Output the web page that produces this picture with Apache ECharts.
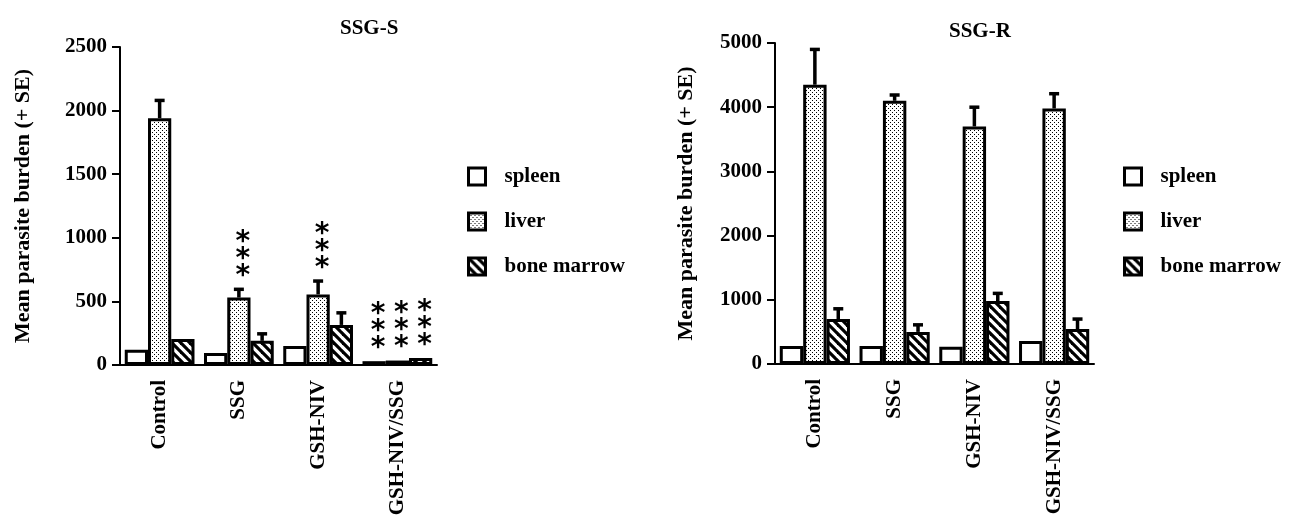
<!DOCTYPE html>
<html><head><meta charset="utf-8">
<script src="https://cdn.jsdelivr.net/npm/echarts@6/dist/echarts.min.js"></script>
<style>html,body{margin:0;padding:0;background:#fff}#c{width:1294px;height:528px}</style>
</head><body><div id="c"></div>
<script>
// ---------- data ----------
const categories = ['Control', 'SSG', 'GSH-NIV', 'GSH-NIV/SSG'];
const seriesNames = ['spleen', 'liver', 'bone marrow'];
const yAxisName = 'Mean parasite burden (+ SE)';
// SSG-S panel
const sSpleen = [120, 95, 150, 30];
const sLiver = [1940, 530, 555, 35];
const sBone = [205, 190, 315, 55];
const sSpleenErr = [null, null, null, null];
const sLiverErr = [2080, 595, 660, null];
const sBoneErr = [null, 245, 410, null];
const sSpleenSig = ['', '', '', '***'];
const sLiverSig = ['', '***', '***', '***'];
const sBoneSig = ['', '', '', '***'];
// SSG-R panel
const rSpleen = [280, 280, 270, 360];
const rLiver = [4350, 4100, 3700, 3980];
const rBone = [700, 500, 980, 545];
const rSpleenErr = [null, null, null, null];
const rLiverErr = [4900, 4190, 4000, 4210];
const rBoneErr = [860, 610, 1100, 700];
const rSig = ['', '', '', ''];
// axis ticks
const sTicks = { min: 0, max: 2500, interval: 500 };
const rTicks = { min: 0, max: 5000, interval: 1000 };

// ---------- styles ----------
const FONT = 'Liberation Serif';
const GAP = 0.12;

function dotPattern() {
  const c = document.createElement('canvas'); c.width = 4; c.height = 4;
  const x = c.getContext('2d');
  x.fillStyle = '#fff'; x.fillRect(0, 0, 4, 4);
  x.fillStyle = '#000'; x.fillRect(0, 0, 1, 1); x.fillRect(2, 2, 1, 1);
  return c;
}
function hatchPattern() {
  const n = 9;
  const c = document.createElement('canvas'); c.width = n; c.height = n;
  const x = c.getContext('2d');
  x.fillStyle = '#fff'; x.fillRect(0, 0, n, n);
  x.strokeStyle = '#000'; x.lineWidth = 3.2;
  for (let k = -n; k <= n; k += n) {
    x.beginPath(); x.moveTo(k - 2, -2); x.lineTo(k + n + 2, n + 2); x.stroke();
  }
  return c;
}
const fills = ['#ffffff', { image: dotPattern(), repeat: 'repeat' }, { image: hatchPattern(), repeat: 'repeat' }];

function barSeries(idx, vals) {
  return vals.map((v, k) => ({
    name: seriesNames[k], type: 'bar', xAxisIndex: idx, yAxisIndex: idx,
    data: v, barGap: '0%', barCategoryGap: (GAP * 100) + '%',
    itemStyle: { color: fills[k], borderColor: '#000', borderWidth: 3 },
    emphasis: { disabled: true }, z: 2
  }));
}

function annoSeries(idx, vals, errs, sigs) {
  const items = [];
  for (let k = 0; k < 3; k++) for (let i = 0; i < categories.length; i++) {
    if (errs[k][i] == null && !sigs[k][i]) continue;
    items.push({ cat: i, k: k, v: vals[k][i], e: errs[k][i], sig: sigs[k][i] });
  }
  return {
    type: 'custom', xAxisIndex: idx, yAxisIndex: idx, z: 5, silent: true,
    data: items.map(it => [it.cat, it.e == null ? it.v : it.e]),
    renderItem: (params, api) => {
      const it = items[params.dataIndex];
      const bw = api.size([1, 0])[0];
      const barW = bw * (1 - GAP) / 3;
      const cx = api.coord([it.cat, 0])[0] + (it.k - 1) * barW;
      const yv = api.coord([it.cat, it.v])[1];
      const children = [];
      let topY = yv;
      if (it.e != null) {
        const ye = api.coord([it.cat, it.e])[1];
        children.push({ type: 'line', shape: { x1: cx, y1: yv, x2: cx, y2: ye }, style: { stroke: '#000', lineWidth: 3.5 } });
        children.push({ type: 'line', shape: { x1: cx - 5, y1: ye, x2: cx + 5, y2: ye }, style: { stroke: '#000', lineWidth: 3.5 } });
        topY = ye;
      }
      if (it.sig) {
        children.push({
          type: 'text', x: cx + 4, y: topY - 4,
          style: {
            text: it.sig.split('').join('\n'), fill: '#000',
            font: 'bold 28px "DejaVu Sans"', lineHeight: 17,
            align: 'center', verticalAlign: 'bottom'
          }
        });
      }
      return { type: 'group', children };
    }
  };
}

const axisLineStyle = { color: '#000', width: 2 };
function xAxis(idx) {
  return {
    type: 'category', gridIndex: idx, data: categories,
    axisLine: { lineStyle: axisLineStyle },
    axisTick: { alignWithLabel: true, length: 7, lineStyle: { color: '#000', width: 1.5 } },
    axisLabel: { rotate: 90, margin: 15, color: '#000', fontFamily: FONT, fontWeight: 'bold', fontSize: 21 },
    splitLine: { show: false }
  };
}
function yAxis(idx, t, gap) {
  return {
    type: 'value', gridIndex: idx, min: t.min, max: t.max, interval: t.interval,
    name: yAxisName, nameLocation: 'middle', nameGap: gap,
    nameTextStyle: { color: '#000', fontFamily: FONT, fontWeight: 'bold', fontSize: 22 },
    axisLine: { show: true, lineStyle: axisLineStyle },
    axisTick: { show: true, length: 8, lineStyle: { color: '#000', width: 2 } },
    axisLabel: { margin: 13, color: '#000', fontFamily: FONT, fontWeight: 'bold', fontSize: 21,
                 formatter: v => String(v) },
    splitLine: { show: false }
  };
}
function legend(left) {
  return {
    orient: 'vertical', left: left, top: 161, itemWidth: 17, itemHeight: 17, itemGap: 24,
    icon: 'rect', selectedMode: false, data: seriesNames,
    itemStyle: { borderColor: '#000', borderWidth: 3 },
    textStyle: { color: '#000', fontFamily: FONT, fontWeight: 'bold', fontSize: 21, padding: [0, 0, 0, 14] }
  };
}

const option = {
  animation: false,
  backgroundColor: '#fff',
  title: [
    { text: 'SSG-S', left: 335, top: 13, textStyle: { color: '#000', fontFamily: FONT, fontWeight: 'bold', fontSize: 21 } },
    { text: 'SSG-R', left: 944, top: 16, textStyle: { color: '#000', fontFamily: FONT, fontWeight: 'bold', fontSize: 21 } }
  ],
  legend: [legend(462), legend(1118)],
  grid: [
    { left: 120, top: 47, width: 317, height: 318 },
    { left: 775, top: 43, width: 319, height: 321 }
  ],
  xAxis: [xAxis(0), xAxis(1)],
  yAxis: [yAxis(0, sTicks, 86), yAxis(1, rTicks, 78)],
  series: [
    ...barSeries(0, [sSpleen, sLiver, sBone]),
    ...barSeries(1, [rSpleen, rLiver, rBone]),
    annoSeries(0, [sSpleen, sLiver, sBone], [sSpleenErr, sLiverErr, sBoneErr], [sSpleenSig, sLiverSig, sBoneSig]),
    annoSeries(1, [rSpleen, rLiver, rBone], [rSpleenErr, rLiverErr, rBoneErr], [rSig, rSig, rSig])
  ]
};
echarts.init(document.getElementById('c')).setOption(option);
</script></body></html>
